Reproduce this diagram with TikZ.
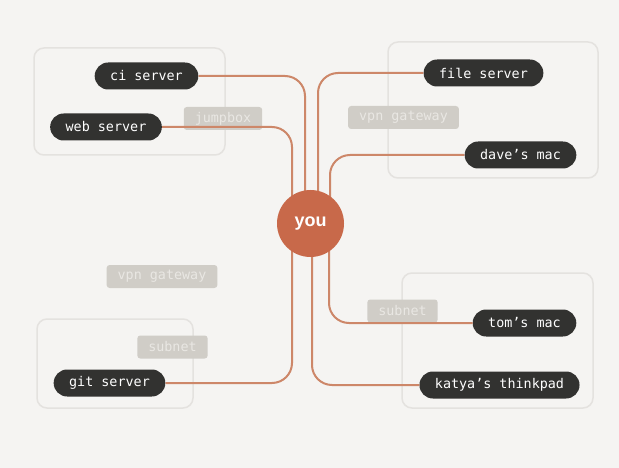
\documentclass[tikz,border=0pt]{standalone}
\usepackage{fontspec}
\setmonofont{DejaVu Sans Mono}
\setsansfont{Liberation Sans}
\usepackage{tikz}
\usetikzlibrary{positioning}
\definecolor{paper}{HTML}{F5F4F2}
\definecolor{groupline}{HTML}{E4E2DF}
\definecolor{pill}{HTML}{323230}
\definecolor{tagfill}{HTML}{D0CDC7}
\definecolor{tagtext}{HTML}{E9E7E3}
\definecolor{wire}{HTML}{CD8769}
\definecolor{youfill}{HTML}{C8694A}

\begin{document}
\begin{tikzpicture}[x=1pt,y=-1pt]
\fill[paper] (0,0) rectangle (619,468);
\useasboundingbox (0,0) rectangle (619,468);

\tikzstyle{group} = [draw=groupline, line width=1.5pt, rounded corners=10pt];
\tikzstyle{host} = [
	fill=pill, text=white, rectangle, rounded corners=13.5pt,
	minimum height=27pt, inner xsep=15.5pt, inner ysep=0pt,
	font=\fontsize{13.4}{13.4}\selectfont\ttfamily ];
\tikzstyle{tag} = [
	fill=tagfill, text=tagtext, rectangle, rounded corners=3pt,
	minimum height=23pt, inner xsep=11pt, inner ysep=0pt,
	font=\fontsize{13.4}{13.4}\selectfont\ttfamily ];
\tikzstyle{link} = [draw=wire, line width=2pt, rounded corners=20pt];

% groups
\draw[group] (34,48) rectangle (225,155);
\draw[group] (388,42) rectangle (598,178);
\draw[group] (37,319) rectangle (193,408);
\draw[group] (402,273) rectangle (593,408);

% tags
\node[tag] (jump) at (223,118.5) {jumpbox};
\node[tag] (vpnR) at (403.5,117.5) {vpn gateway};
\node[tag] (vpnL) at (162,276.5) {vpn gateway};
\node[tag] (subL) at (172.5,347) {subnet};
\node[tag] (subR) at (402.5,311) {subnet};

% hosts
\coordinate (hub) at (310.5,223.5);
\node[host] (ci) at (146.5,76) {ci server};
\node[host] (web) at (106,127) {web server};
\node[host] (file) at (483.5,73) {file server};
\node[host] (dave) at (520.5,155) {dave’s mac};
\node[host] (git) at (109.5,383) {git server};
\node[host] (tom) at (524.5,323) {tom’s mac};
\node[host] (katya) at (499.5,385) {katya’s thinkpad};

% links
\draw[link] (ci.east) -| ([xshift=-5.5pt]hub);
\draw[link] (web.east) -| ([xshift=-18.5pt]hub);
\draw[link] (file.west) -| ([xshift=7.5pt]hub);
\draw[link] (dave.west) -| ([xshift=19.5pt]hub);
\draw[link] (git.east) -| ([xshift=-18.5pt]hub);
\draw[link] (tom.west) -| ([xshift=18.5pt]hub);
\draw[link] (katya.west) -| ([xshift=1.5pt]hub);

\node[circle, fill=youfill, text=white, minimum size=67pt, inner sep=0pt,
	font=\fontsize{18}{18}\selectfont\sffamily\bfseries] (you) at (hub) {you};

\end{tikzpicture}
\end{document}
